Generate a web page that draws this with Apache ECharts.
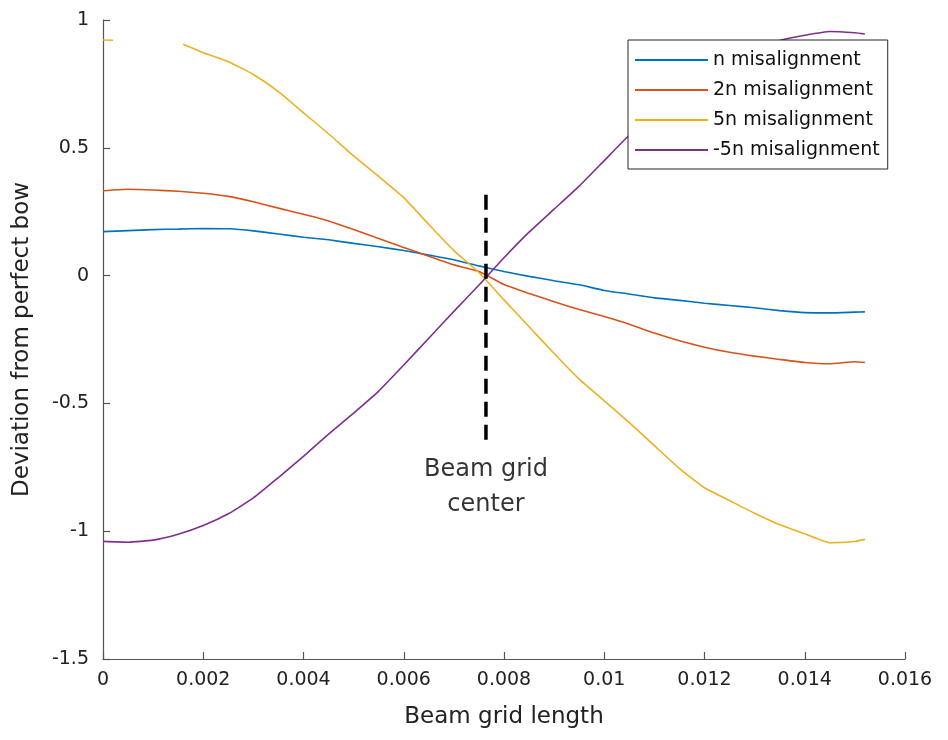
<!DOCTYPE html>
<html><head><meta charset="utf-8">
<script src="https://cdn.jsdelivr.net/npm/echarts@6/dist/echarts.min.js"></script>
<style>html,body{margin:0;padding:0;background:#fff}#c{width:948px;height:740px}</style>
</head><body><div id="c"></div>
<script>
// Shared x positions (Beam grid length)
const xValues = [0,0.0005,0.001,0.0015,0.002,0.0025,0.003,0.0035,0.004,0.0045,0.005,0.0055,0.006,0.0065,0.007,0.0075,0.008,0.0085,0.009,0.0095,0.01,0.0105,0.011,0.0115,0.012,0.0125,0.013,0.0135,0.014,0.0145,0.015,0.0152];

const nValues = [0.172,0.176,0.180,0.182,0.184,0.183,0.175,0.163,0.150,0.140,0.126,0.113,0.098,0.080,0.062,0.038,0.016,-0.003,-0.020,-0.036,-0.058,-0.072,-0.087,-0.097,-0.108,-0.117,-0.126,-0.137,-0.145,-0.146,-0.143,-0.142];

const n2Values = [0.332,0.338,0.335,0.330,0.322,0.310,0.289,0.264,0.240,0.214,0.180,0.145,0.110,0.076,0.042,0.016,-0.035,-0.070,-0.102,-0.133,-0.160,-0.190,-0.225,-0.255,-0.280,-0.300,-0.315,-0.328,-0.340,-0.345,-0.337,-0.340];

const yellowX = [0,0.0002,0.001,0.0016,0.002,0.0025,0.003,0.0035,0.004,0.0045,0.005,0.0055,0.006,0.0065,0.007,0.0075,0.008,0.0085,0.009,0.0095,0.01,0.0105,0.011,0.0115,0.012,0.0125,0.013,0.0135,0.014,0.0145,0.015,0.0152];
const n5Values = [0.922,0.921,null,0.905,0.872,0.837,0.787,0.720,0.637,0.555,0.468,0.388,0.305,0.200,0.098,0.012,-0.095,-0.200,-0.305,-0.405,-0.490,-0.575,-0.665,-0.755,-0.830,-0.880,-0.930,-0.975,-1.010,-1.045,-1.040,-1.032];

const nm5Values = [-1.040,-1.043,-1.035,-1.012,-0.978,-0.932,-0.870,-0.790,-0.707,-0.620,-0.538,-0.452,-0.350,-0.245,-0.140,-0.037,0.070,0.170,0.260,0.350,0.450,0.550,0.640,0.720,0.790,0.845,0.890,0.920,0.940,0.955,0.950,0.945];

const seriesNames = ['n misalignment','2n misalignment','5n misalignment','-5n misalignment'];
const seriesColors = ['#0072BD','#D95319','#EDB120','#7E2F8E'];

// Annotation
const centerX = 0.00764;
const centerLineY = [0.316, -0.66];
const centerLabelY = -0.83;
const centerLabel = 'Beam grid\ncenter';

const FONT = 'DejaVu Sans';
const pairs = (xs, ys) => xs.map((x, i) => [x, ys[i]]);

const lineSeries = (name, color, data) => ({
  name, type: 'line', data, symbol: 'none', showSymbol: false, connectNulls: false,
  smooth: 0.15,
  lineStyle: { color, width: 1.6 }, itemStyle: { color }, z: 3, animation: false
});

const chart = echarts.init(document.getElementById('c'), null, { renderer: 'canvas' });
chart.setOption({
  animation: false,
  backgroundColor: '#fff',
  textStyle: { fontFamily: FONT },
  grid: { left: 103, right: 43, top: 20, bottom: 81, containLabel: false },
  legend: {
    data: seriesNames, orient: 'vertical', left: 628, top: 40,
    icon: 'rect', itemWidth: 73, itemHeight: 2, itemGap: 0,
    padding: [5, 8, 4, 7],
    borderColor: '#262626', borderWidth: 1, backgroundColor: '#fff',
    textStyle: { fontSize: 19, color: '#111', fontFamily: FONT, lineHeight: 30 },
    z: 10
  },
  xAxis: {
    type: 'value', min: 0, max: 0.016, interval: 0.002,
    name: 'Beam grid length', nameLocation: 'middle', nameGap: 47,
    nameTextStyle: { fontSize: 23, color: '#222', fontFamily: FONT },
    axisLine: { show: true, onZero: false, lineStyle: { color: '#555', width: 1.2 } },
    axisTick: { show: true, inside: true, length: 7, lineStyle: { color: '#555', width: 1.2 } },
    axisLabel: { fontSize: 19, color: '#222', margin: 12, fontFamily: FONT,
      formatter: v => String(+v.toFixed(4)) },
    splitLine: { show: false }
  },
  yAxis: {
    type: 'value', min: -1.5, max: 1, interval: 0.5,
    name: 'Deviation from perfect bow', nameLocation: 'middle', nameGap: 69,
    nameTextStyle: { fontSize: 23, color: '#222', fontFamily: FONT },
    axisLine: { show: true, onZero: false, lineStyle: { color: '#555', width: 1.2 } },
    axisTick: { show: true, inside: true, length: 7, lineStyle: { color: '#555', width: 1.2 } },
    axisLabel: { fontSize: 19, color: '#222', margin: 14, fontFamily: FONT,
      formatter: v => String(+v.toFixed(2)) },
    splitLine: { show: false }
  },
  series: [
    lineSeries(seriesNames[0], seriesColors[0], pairs(xValues, nValues)),
    lineSeries(seriesNames[1], seriesColors[1], pairs(xValues, n2Values)),
    lineSeries(seriesNames[2], seriesColors[2], pairs(yellowX, n5Values)),
    lineSeries(seriesNames[3], seriesColors[3], pairs(xValues, nm5Values)),
    {
      name: 'center', type: 'line', symbol: 'none', silent: true, z: 5,
      data: [[centerX, centerLineY[0]], [centerX, centerLineY[1]]],
      lineStyle: { color: '#000', width: 3.5, type: [15, 8] }
    },
    {
      name: 'centerLabel', type: 'scatter', symbolSize: 0, silent: true, z: 5,
      data: [[centerX, centerLabelY]],
      label: { show: true, position: 'inside', formatter: centerLabel,
        fontSize: 24, lineHeight: 35, color: '#000', fontFamily: FONT }
    }
  ]
});
</script></body></html>
